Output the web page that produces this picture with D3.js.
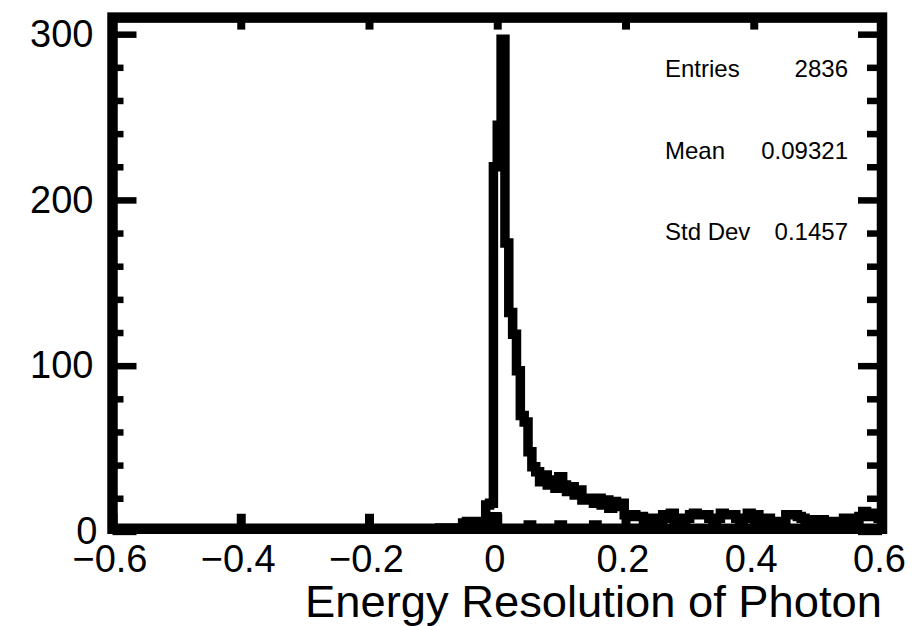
<!DOCTYPE html>
<html><head><meta charset="utf-8">
<script src="https://cdn.jsdelivr.net/npm/d3@7"></script>
<style>
body{margin:0;background:#fff}
svg{display:block;background:#fff}
text{font-family:"Liberation Sans",Arial,Helvetica,sans-serif;fill:#000}
</style>
</head><body>
<svg id="c" width="914" height="626"></svg>
<script>
// ---------- data ----------
const xMin = -0.6, xMax = 0.6;
const binCount = 200;
const mainCounts = [
  0,0,0,0,1,0,0,0,0,0,
  0,0,1,0,0,0,0,0,0,0,
  0,1,0,0,0,0,0,0,1,0,
  0,0,0,0,1,0,0,0,0,1,
  0,0,0,0,0,1,0,0,0,0,
  1,0,0,0,0,1,0,0,1,0,
  0,1,0,0,1,0,0,1,0,1,
  0,0,1,0,1,1,0,1,0,1,
  1,0,1,1,0,2,1,1,2,1,
  2,5,6,4,6,6,5,16,17,220,
  245,297,174,132,119,97,70,66,48,39,
  36,30,34,28,31,26,33,28,24,27,
  22,25,19,20,20,17,20,16,19,14,
  18,15,17,10,9,10,9,9,7,8,
  6,8,7,10,8,11,7,8,5,8,
  10,11,10,10,10,8,6,8,11,10,
  10,10,8,7,8,11,9,10,8,7,
  8,6,6,5,6,10,10,10,9,8,
  7,6,7,5,7,6,6,5,6,4,
  8,7,8,6,9,12,10,9,11,8
];
const overlayBins = [99, 108, 116, 125];
const overlayCounts = [9, 4, 4, 4];
const xTickValues = [-0.6, -0.4, -0.2, 0, 0.2, 0.4, 0.6];
const yMajorTicks = [0, 100, 200, 300];
const yMinorTicks = [20, 40, 60, 80, 120, 140, 160, 180, 220, 240, 260, 280];
const yTop = 310;
const statLabels = ["Entries", "Mean", "Std Dev"];
const statValues = ["2836", "0.09321", "0.1457"];
const axisTitle = "Energy Resolution of Photon";

// ---------- layout ----------
const svg = d3.select("#c");
const x = d3.scaleLinear().domain([xMin, xMax]).range([112.5, 882]);
const y = d3.scaleLinear().domain([0, yTop]).range([531.4, 17.6]);
const frameL = x(xMin), frameR = x(xMax), frameT = y(yTop), frameB = 528.75;
const binW = (xMax - xMin) / binCount;

svg.append("defs").append("clipPath").attr("id","clip")
  .append("rect").attr("x",frameL).attr("y",frameT)
  .attr("width",frameR-frameL).attr("height",frameB-frameT);

function stepPoints(counts){
  const pts = [[xMin, 0]];
  counts.forEach((v,k)=>pts.push([xMin + k*binW, v]));
  pts.push([xMax, 0]);
  return pts;
}
const line = d3.line().x(d=>x(d[0])).y(d=>y(d[1])).curve(d3.curveStepAfter);

const overlayFull = new Array(binCount).fill(0);
overlayBins.forEach((b,i)=>overlayFull[b]=overlayCounts[i]);

const hg = svg.append("g").attr("clip-path","url(#clip)");
hg.append("path").attr("d", line(stepPoints(overlayFull)))
  .attr("fill","none").attr("stroke","#000").attr("stroke-width",9)
  .attr("stroke-linejoin","miter");
hg.append("path").attr("d", line(stepPoints(mainCounts)))
  .attr("fill","none").attr("stroke","#000").attr("stroke-width",9.5)
  .attr("stroke-linejoin","miter");

// frame
svg.append("rect").attr("x",frameL).attr("y",frameT)
  .attr("width",frameR-frameL).attr("height",frameB-frameT)
  .attr("fill","none").attr("stroke","#000").attr("stroke-width",10.5);

function styleTicks(g, w){
  g.select(".domain").remove();
  g.selectAll(".tick line").attr("stroke","#000").attr("stroke-width",w);
}
svg.append("g").attr("transform",`translate(${frameL},0)`)
  .call(d3.axisLeft(y).tickValues(yMinorTicks).tickSize(-11).tickFormat(""))
  .call(g=>styleTicks(g,6.5));
svg.append("g").attr("transform",`translate(${frameL},0)`)
  .call(d3.axisLeft(y).tickValues(yMajorTicks).tickSize(-24).tickFormat(""))
  .call(g=>styleTicks(g,6.5));
svg.append("g").attr("transform",`translate(${frameR},0)`)
  .call(d3.axisRight(y).tickValues(yMinorTicks).tickSize(-15).tickFormat(""))
  .call(g=>styleTicks(g,6.5));
svg.append("g").attr("transform",`translate(${frameR},0)`)
  .call(d3.axisRight(y).tickValues(yMajorTicks).tickSize(-24).tickFormat(""))
  .call(g=>styleTicks(g,6.5));
svg.append("g").attr("transform",`translate(0,${frameB})`)
  .call(d3.axisBottom(x).tickValues(xTickValues).tickSize(-15).tickFormat(""))
  .call(g=>styleTicks(g,9));
svg.append("g").attr("transform",`translate(0,${frameT})`)
  .call(d3.axisTop(x).tickValues(xTickValues).tickSize(-12).tickFormat(""))
  .call(g=>styleTicks(g,8));

// labels
const fmt = d => d === 0 ? "0" : d3.format(".1f")(d);
svg.append("g").attr("transform",`translate(${frameL},0)`)
  .call(d3.axisLeft(y).tickValues(yMajorTicks).tickSize(0).tickPadding(19).tickFormat(d3.format("d")))
  .call(g=>{g.select(".domain").remove();
    g.selectAll("text").attr("font-size",38).attr("fill","#000")
      .attr("font-family",'"Liberation Sans",Arial,sans-serif')
      .filter(d=>d===0).attr("dx",4);});
svg.append("g").attr("transform",`translate(0,${frameB})`)
  .call(d3.axisBottom(x).tickValues(xTickValues).tickSize(0).tickPadding(16).tickFormat(fmt))
  .call(g=>{g.select(".domain").remove();
    g.selectAll("text").attr("font-size",38).attr("dx",-3).attr("fill","#000")
      .attr("font-family",'"Liberation Sans",Arial,sans-serif');});

// axis title
svg.append("text").attr("x",882).attr("y",617).attr("text-anchor","end")
  .attr("font-size",44).attr("textLength",577).attr("lengthAdjust","spacingAndGlyphs")
  .text(axisTitle);

// stats
const statBase = [77, 158.5, 240];
statLabels.forEach((s,i)=>{
  svg.append("text").attr("x",665).attr("y",statBase[i]).attr("font-size",24).text(s);
  svg.append("text").attr("x",848).attr("y",statBase[i]).attr("font-size",24)
    .attr("text-anchor","end").text(statValues[i]);
});
</script>
</body></html>
